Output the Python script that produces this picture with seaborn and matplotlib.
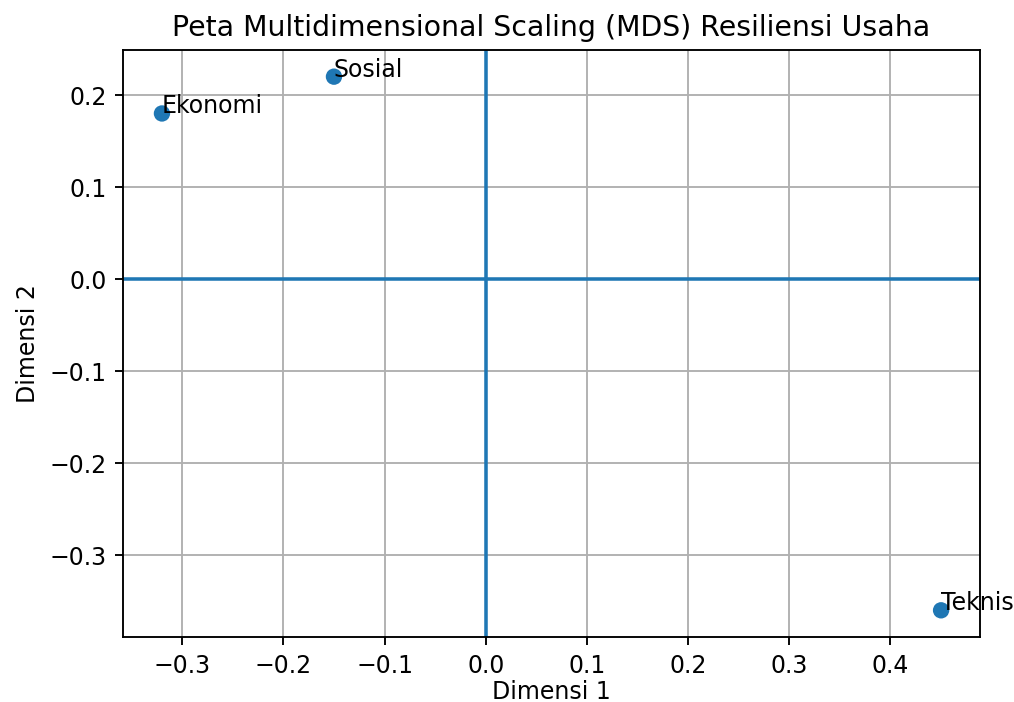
import matplotlib
matplotlib.use("Agg")
import matplotlib.pyplot as plt
import seaborn as sns
import pandas as pd

# MDS coordinates
labels = ['Ekonomi', 'Sosial', 'Teknis']
dim1 = [-0.32, -0.15, 0.45]
dim2 = [0.18, 0.22, -0.36]

df = pd.DataFrame({'Dimensi 1': dim1, 'Dimensi 2': dim2, 'label': labels})

plt.rcParams['font.family'] = 'DejaVu Sans'

DPI = 170
fig = plt.figure(figsize=(1014 / DPI, 702 / DPI), dpi=DPI)
ax = fig.add_axes([0.1213, 0.0926, 0.8452, 0.8362])

sns.scatterplot(data=df, x='Dimensi 1', y='Dimensi 2', ax=ax,
                s=48, color='#1f77b4', edgecolor='none', zorder=3)

for _, r in df.iterrows():
    ax.text(r['Dimensi 1'], r['Dimensi 2'], r['label'])

ax.axhline(0, color='#1f77b4', zorder=2)
ax.axvline(0, color='#1f77b4', zorder=2)

ax.grid(True)
ax.set_axisbelow(True)

ax.set_title('Peta Multidimensional Scaling (MDS) Resiliensi Usaha')
ax.set_xlabel('Dimensi 1', labelpad=1)
ax.set_ylabel('Dimensi 2')

fig.savefig('out.png', dpi=DPI)
